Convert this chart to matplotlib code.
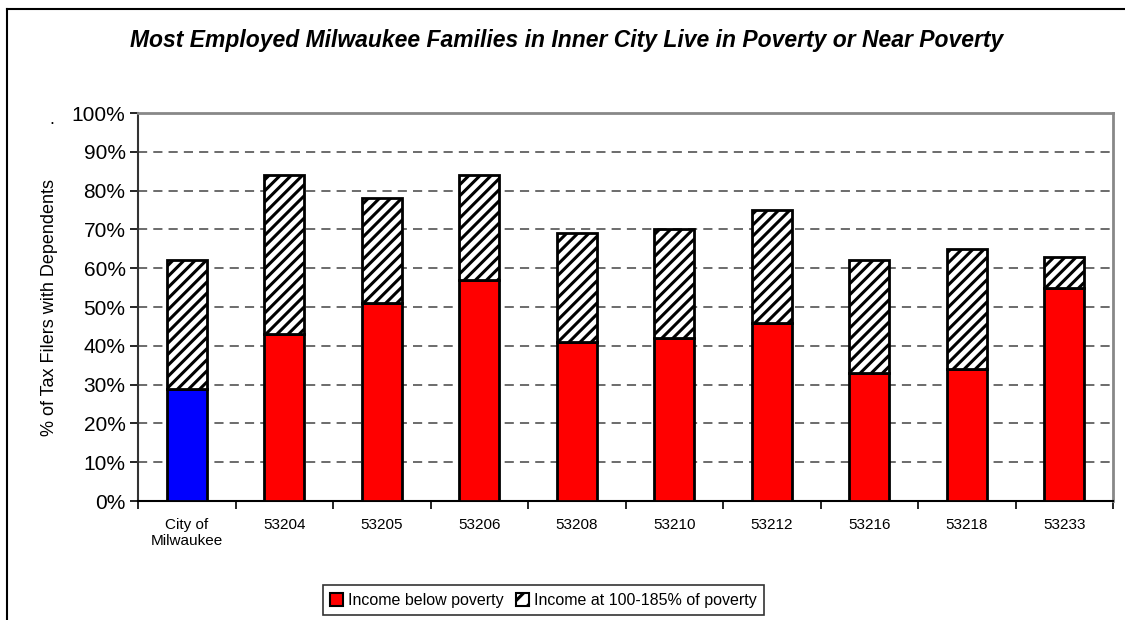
import matplotlib
matplotlib.use("Agg")
import matplotlib.pyplot as plt
from matplotlib.lines import Line2D
import numpy as np

# data (percent of tax filers with dependents)
categories = ["City of\nMilwaukee", "53204", "53205", "53206", "53208",
              "53210", "53212", "53216", "53218", "53233"]
below_poverty = [29, 43, 51, 57, 41, 42, 46, 33, 34, 55]
total_185 = [62, 84, 78, 84, 69, 70, 75, 62, 65, 63]
near_poverty = [t - b for t, b in zip(total_185, below_poverty)]
bar_colors = ["#0000FF"] + ["#FF0000"] * 9
yticks = list(range(0, 101, 10))

plt.rcParams["font.family"] = ["Liberation Sans", "DejaVu Sans"]
plt.rcParams["hatch.linewidth"] = 2.2
plt.rcParams["hatch.color"] = "#3a3a3a"

fig = plt.figure(figsize=(11.25, 6.2), dpi=100)
ax = fig.add_axes([0.1227, 0.1919, 0.8667, 0.6258])

x = np.arange(len(categories))
w = 0.41
ax.bar(x, below_poverty, width=w, color=bar_colors, edgecolor="black", linewidth=2, zorder=3)
ax.bar(x, near_poverty, width=w, bottom=below_poverty, color="white", edgecolor="black",
       hatch="///", linewidth=2, zorder=3)

ax.set_xlim(-0.5, len(categories) - 0.5)
ax.set_ylim(0, 100)
ax.set_yticks(yticks)
ax.set_yticklabels([f"{v}%" for v in yticks], fontsize=15)
ax.set_xticks(x)
ax.set_xticklabels(categories, fontsize=11)
ax.tick_params(axis="x", length=0, pad=12)
ax.set_xticks(np.arange(-0.5, len(categories)), minor=True)
ax.tick_params(axis="x", which="minor", length=6, width=1.2, direction="out")
ax.tick_params(axis="y", length=6, width=1.2, direction="out", pad=3)

for v in yticks[1:-1]:
    ax.axhline(v, color="#444444", linestyle=(0, (6, 4)), linewidth=1.1, zorder=1)

for s in ["top", "right"]:
    ax.spines[s].set_color("#888888")
    ax.spines[s].set_linewidth(2)
ax.spines["left"].set_color("#333333")
ax.spines["left"].set_linewidth(1.5)
ax.spines["bottom"].set_color("black")
ax.spines["bottom"].set_linewidth(1.5)

ax.set_ylabel("% of Tax Filers with Dependents", fontsize=13, labelpad=10)
fig.text(0.046, 0.80, ".", fontsize=13, ha="center")

fig.text(0.504, 0.935, "Most Employed Milwaukee Families in Inner City Live in Poverty or Near Poverty",
         fontsize=16.5, fontweight="bold", fontstyle="italic", ha="center", va="center")

# outer chart border (left and top edges visible)
fig.add_artist(Line2D([0.0062, 0.0062], [0, 0.9855], color="black", linewidth=1.5,
                      transform=fig.transFigure))
fig.add_artist(Line2D([0.0062, 1.0], [0.9855, 0.9855], color="black", linewidth=1.5,
                      transform=fig.transFigure))

h1 = plt.Rectangle((0, 0), 1, 1, facecolor="#FF0000", edgecolor="black", linewidth=1.5)
h2 = plt.Rectangle((0, 0), 1, 1, facecolor="white", edgecolor="black", hatch="//", linewidth=1.5)
leg = fig.legend([h1, h2], ["Income below poverty", "Income at 100-185% of poverty"],
                 loc="center", bbox_to_anchor=(0.483, 0.032), ncol=2, fontsize=11.5,
                 frameon=True, fancybox=False, edgecolor="black", handlelength=0.8,
                 handleheight=0.9, handletextpad=0.3, columnspacing=0.8, borderpad=0.45)
leg.get_frame().set_linewidth(1.2)

fig.savefig("out.png", dpi=100)
